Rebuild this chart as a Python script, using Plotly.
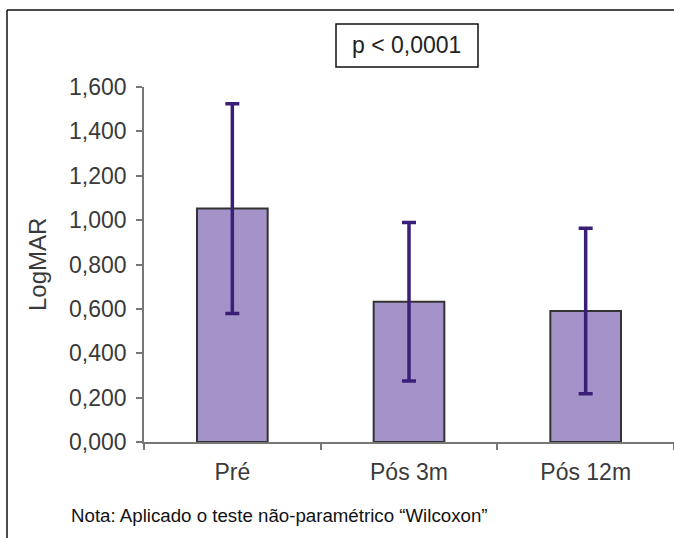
import plotly.graph_objects as go

categories = ["Pré", "Pós 3m", "Pós 12m"]
means = [1.052, 0.632, 0.590]
errors = [0.473, 0.357, 0.373]
y_ticks = [0.0, 0.2, 0.4, 0.6, 0.8, 1.0, 1.2, 1.4, 1.6]

W, H = 674, 538
L, R, T, B = 144, 0, 87, 96
pw, ph = W - L - R, H - T - B

def px(x):
    return (x - L) / pw

def py(y):
    return (H - B - y) / ph

font = "Arial, Liberation Sans, sans-serif"

fig = go.Figure(go.Bar(
    x=categories, y=means, width=0.4,
    marker=dict(color="#a493c9", line=dict(color="#333333", width=2)),
    error_y=dict(type="data", array=errors, visible=True,
                 color="#3a1f78", thickness=3.5, width=7),
))

fig.update_layout(
    width=W, height=H,
    margin=dict(l=L, r=R, t=T, b=B),
    paper_bgcolor="white", plot_bgcolor="white",
    separators=", ",
    showlegend=False,
    xaxis=dict(showline=True, linecolor="#777777", linewidth=1.5,
               ticks="outside", tickson="boundaries", ticklen=6,
               tickcolor="#777777", tickwidth=1.5,
               tickfont=dict(family=font, size=23, color="#3a3a3a"),
               ticklabelstandoff=9, showgrid=False, zeroline=False),
    yaxis=dict(range=[0, 1.6], tickvals=y_ticks, tickformat=".3f",
               showline=True, linecolor="#777777", linewidth=1.5,
               ticks="outside", ticklen=6, tickcolor="#777777", tickwidth=1.5,
               tickfont=dict(family=font, size=23, color="#3a3a3a"),
               ticklabelstandoff=5, showgrid=False, zeroline=False),
    shapes=[
        dict(type="line", xref="paper", yref="paper",
             x0=px(7), x1=px(W + 5), y0=py(10), y1=py(10),
             line=dict(color="#111111", width=1.5)),
        dict(type="line", xref="paper", yref="paper",
             x0=px(7), x1=px(7), y0=py(10), y1=py(H + 5),
             line=dict(color="#111111", width=1.5)),
        dict(type="rect", xref="paper", yref="paper",
             x0=px(336), x1=px(478), y0=py(67), y1=py(24),
             line=dict(color="#111111", width=1.5), fillcolor="white"),
    ],
    annotations=[
        dict(text="p < 0,0001", xref="paper", yref="paper",
             x=px(406), y=py(45), showarrow=False,
             font=dict(family=font, size=23, color="#222222"),
             xanchor="center", yanchor="middle"),
        dict(text="LogMAR", xref="paper", yref="paper",
             x=px(37), y=py(265), showarrow=False, textangle=-90,
             font=dict(family=font, size=24, color="#3a3a3a"),
             xanchor="center", yanchor="middle"),
        dict(text="Nota: Aplicado o teste não-paramétrico “Wilcoxon”",
             xref="paper", yref="paper",
             x=px(69), y=py(515), showarrow=False,
             font=dict(family=font, size=18.7, color="#111111"),
             xanchor="left", yanchor="middle"),
    ],
)

fig.write_html("out.html", config={"displayModeBar": False},
               post_script="document.body.style.margin='0';document.body.style.padding='0';")
